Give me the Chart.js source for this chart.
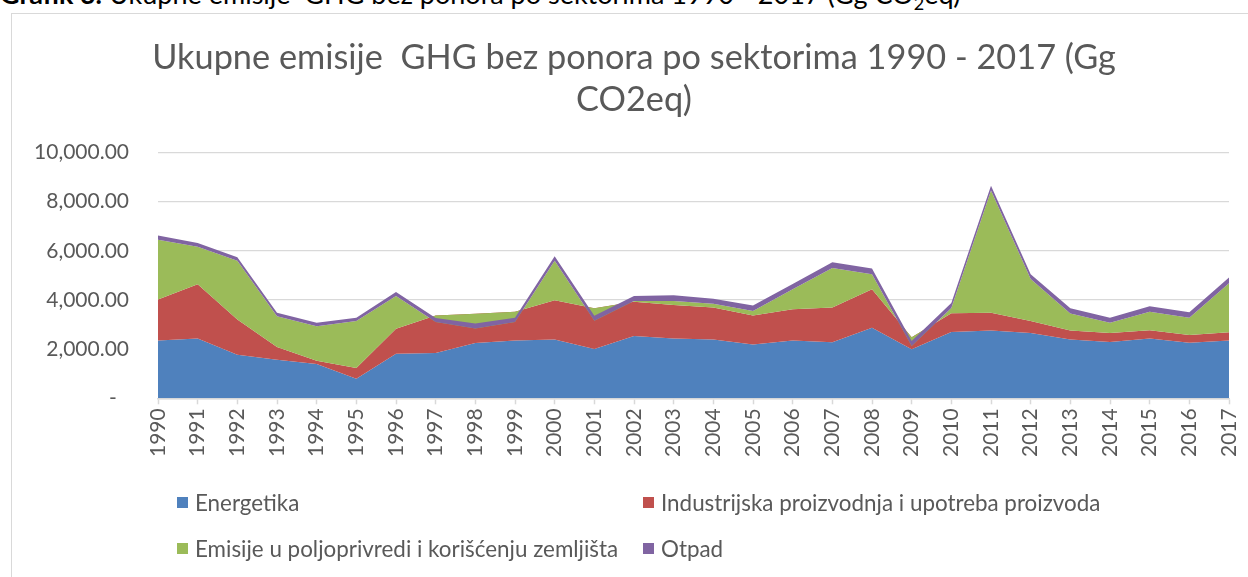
<!DOCTYPE html>
<html>
<head>
<meta charset="utf-8">
<script src="https://cdn.jsdelivr.net/npm/chart.js@4.4.1/dist/chart.umd.min.js"></script>
<style>
html,body{margin:0;padding:0;background:#fff;width:1248px;height:577px;overflow:hidden;font-family:Lato,"Open Sans",sans-serif;}
#frame{position:absolute;left:11px;top:13px;width:1400px;height:800px;border:1px solid #d9d9d9;box-sizing:border-box;}
#hdr{position:absolute;left:0;top:-22px;font-size:27px;line-height:32px;white-space:nowrap;color:#000;}
#title{position:absolute;left:0;top:35px;width:1268px;text-align:center;font-size:34.3px;line-height:42px;color:#595959;}
#chart{position:absolute;left:0;top:0;}
.lg{position:absolute;height:24px;display:flex;align-items:center;font-size:22.4px;color:#595959;white-space:nowrap;}
.lg span.b{display:inline-block;width:11px;height:11px;margin-right:7px;}
</style>
</head>
<body>
<div id="hdr"><b>Grafik 3.</b> Ukupne emisije&nbsp; GHG bez ponora po sektorima 1990 - 2017 (Gg CO<sub style="font-size:18px">2</sub>eq)</div>
<div id="frame"></div>
<canvas id="chart" width="1248" height="577"></canvas>
<div id="title">Ukupne emisije&nbsp; GHG bez ponora po sektorima 1990 - 2017 (Gg<br>CO2eq)</div>
<div id="legend"></div>
<script>
// ---- data (Gg CO2eq) ----
const years = ['1990','1991','1992','1993','1994','1995','1996','1997','1998','1999','2000','2001','2002','2003','2004','2005','2006','2007','2008','2009','2010','2011','2012','2013','2014','2015','2016','2017'];
const energetika    = [2350,2430,1775,1570,1400,800,1810,1840,2250,2350,2390,2010,2530,2430,2390,2185,2350,2280,2870,2000,2700,2760,2660,2390,2295,2430,2255,2350];
const industrija    = [1670,2210,1435,520,130,430,1020,1530,1190,1170,1600,1650,1400,1365,1300,1185,1270,1410,1570,480,760,720,480,370,365,340,325,340];
const poljoprivreda = [2430,1530,2390,1250,1400,1910,1330,-270,-600,-420,1610,-510,30,165,160,180,820,1610,610,-350,210,4970,1710,690,410,750,700,1990];
const otpad         = [170,150,140,140,140,140,160,170,200,176,175,210,200,230,200,230,210,230,230,200,210,200,200,210,210,230,220,230];
const seriesNames = ['Energetika','Industrijska proizvodnja i upotreba proizvoda','Emisije u poljoprivredi i korišćenju zemljišta','Otpad'];
const yTicks = [0,2000,4000,6000,8000,10000];

const colors = ['#4F81BD','#C0504D','#9BBB59','#8064A2'];
const series = [energetika, industrija, poljoprivreda, otpad];

// cumulative (Excel-style stacked area, drawn in series order)
let run = years.map(() => 0);
const cum = series.map(s => (run = run.map((v, i) => v + s[i])));

const datasets = cum.map((d, k) => ({
  label: seriesNames[k],
  data: d,
  backgroundColor: colors[k],
  borderColor: colors[k],
  borderWidth: 0,
  pointRadius: 0,
  pointHoverRadius: 0,
  tension: 0,
  fill: k === 0 ? 'origin' : k - 1,
  order: series.length - 1 - k
}));

const fmt = v => v === 0 ? '-\u2007' : v.toLocaleString('en-US', {minimumFractionDigits: 2, maximumFractionDigits: 2});

new Chart(document.getElementById('chart'), {
  type: 'line',
  data: {labels: years, datasets},
  options: {
    responsive: false,
    animation: false,
    layout: {padding: {left: 0, right: 19, top: 152.5, bottom: 0}},
    plugins: {legend: {display: false}, tooltip: {enabled: false}, title: {display: false}},
    scales: {
      x: {
        type: 'category',
        offset: false,
        grid: {drawOnChartArea: false, drawTicks: true, tickLength: 6, tickColor: '#d9d9d9', tickWidth: 1.5},
        border: {display: true, color: '#d9d9d9', width: 1.5},
        ticks: {autoSkip: false, maxRotation: 90, minRotation: 90, padding: 4, color: '#595959', font: {family: 'Lato', size: 21}},
        afterFit: s => { s.height = 577 - 398.3; s.paddingLeft = 0; s.paddingRight = 0; }
      },
      y: {
        min: 0, max: 10000,
        afterBuildTicks: s => { s.ticks = yTicks.map(v => ({value: v})); },
        grid: {color: '#d9d9d9', lineWidth: 1.3, drawTicks: false},
        border: {display: false},
        ticks: {padding: 29, color: '#595959', font: {family: 'Lato', size: 21}, callback: fmt},
        afterFit: s => { s.width = 158; s.paddingTop = 0; s.paddingBottom = 0; }
      }
    }
  }
});

// legend (2 x 2 grid)
const lgPos = [[177,490],[643,490],[177,536],[643,536]];
const lg = document.getElementById('legend');
seriesNames.forEach((n, k) => {
  const d = document.createElement('div');
  d.className = 'lg';
  d.style.left = lgPos[k][0] + 'px';
  d.style.top = lgPos[k][1] + 'px';
  d.innerHTML = '<span class="b" style="background:' + colors[k] + '"></span>' + n;
  lg.appendChild(d);
});
</script>
</body>
</html>
